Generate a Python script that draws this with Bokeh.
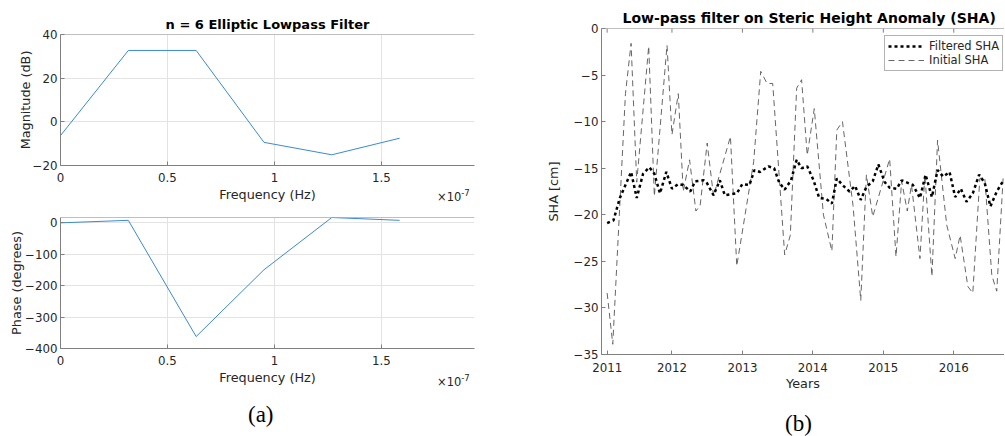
from bokeh.plotting import figure
from bokeh.layouts import row, column
from bokeh.models import Div, Span, Legend, LegendItem, FixedTicker, Range1d
from bokeh.embed import file_html
from bokeh.resources import INLINE

# ---------------- data ----------------
freq_hz = [0.0, 3.17e-8, 6.34e-8, 9.51e-8, 1.268e-7, 1.585e-7]
mag_db = [-6.3, 32.7, 32.7, -9.4, -15.1, -7.5]
phase_deg = [-1.0, 7.0, -362.0, -150.0, 16.0, 7.0]

init_years = [2011.08, 2011.16, 2011.34, 2011.42, 2011.50, 2011.67, 2011.75, 2011.93, 2012.00,
              2012.09, 2012.16, 2012.25, 2012.34, 2012.40, 2012.50, 2012.59, 2012.83, 2012.92,
              2013.16, 2013.26, 2013.35, 2013.43, 2013.60, 2013.68, 2013.77, 2013.84, 2013.92,
              2014.02, 2014.15, 2014.27, 2014.34, 2014.42, 2014.57, 2014.68, 2014.76, 2014.85,
              2015.09, 2015.18, 2015.26, 2015.34, 2015.40, 2015.52, 2015.59, 2015.69, 2015.77,
              2015.90, 2016.02, 2016.09, 2016.20, 2016.27, 2016.37, 2016.44, 2016.54, 2016.61,
              2016.70]
init_sha = [-28.4, -33.9, -7.0, -1.6, -16.5, -1.9, -18.0, -1.8, -11.4,
            -7.0, -17.5, -14.1, -19.6, -19.0, -12.3, -18.0, -11.6, -25.5,
            -14.3, -4.6, -5.9, -5.9, -24.3, -22.2, -6.4, -5.5, -13.6,
            -8.6, -20.0, -23.9, -10.9, -10.0, -19.0, -29.2, -15.7, -20.2,
            -14.0, -24.5, -16.4, -19.6, -16.8, -24.7, -15.7, -26.6, -12.0,
            -21.1, -24.7, -22.2, -27.7, -28.4, -16.1, -16.0, -26.5, -28.2,
            -16.1]

filt_years = [2011.08, 2011.17, 2011.26, 2011.34, 2011.42, 2011.50, 2011.59, 2011.68, 2011.75,
              2011.83, 2011.92, 2012.00, 2012.09, 2012.16, 2012.26, 2012.33, 2012.45, 2012.49,
              2012.59, 2012.68, 2012.75, 2012.92, 2013.00, 2013.10, 2013.17, 2013.25, 2013.37,
              2013.45, 2013.52, 2013.60, 2013.69, 2013.77, 2013.84, 2013.92, 2014.01, 2014.09,
              2014.19, 2014.27, 2014.34, 2014.42, 2014.52, 2014.60, 2014.68, 2014.76, 2014.85,
              2014.93, 2015.02, 2015.09, 2015.19, 2015.26, 2015.42, 2015.52, 2015.60, 2015.69,
              2015.77, 2015.85, 2015.94, 2016.02, 2016.10, 2016.18, 2016.27, 2016.36, 2016.44,
              2016.52, 2016.61, 2016.69]
filt_sha = [-20.9, -20.6, -18.2, -16.8, -15.4, -18.2, -15.6, -14.9, -15.6,
            -17.7, -15.4, -17.2, -16.7, -16.8, -17.5, -16.4, -16.3, -16.5,
            -17.9, -16.3, -17.9, -17.7, -16.7, -16.8, -15.2, -15.4, -14.8,
            -15.0, -16.5, -17.3, -16.3, -14.1, -15.0, -14.8, -16.3, -18.2,
            -18.3, -18.8, -16.1, -16.8, -17.5, -16.9, -18.4, -17.0, -16.4,
            -14.6, -16.5, -17.1, -17.2, -16.3, -16.8, -18.2, -15.7, -18.1,
            -15.2, -15.9, -15.4, -18.1, -17.2, -18.6, -17.7, -15.7, -16.6,
            -19.1, -17.5, -16.5]

freq_ticks = [0, 0.5, 1, 1.5]
freq_tick_labels = ["0", "0.5", "1", "1.5"]
mag_ticks = [-20, 0, 20, 40]
phase_ticks = [-400, -300, -200, -100, 0]
year_ticks = [2011.08, 2012, 2013, 2014, 2015, 2016]
year_tick_labels = ["2011", "2012", "2013", "2014", "2015", "2016"]
sha_ticks = [-35, -30, -25, -20, -15, -10, -5, 0]

FONT = "DejaVu Sans"
AXC = "#808080"
TXT = "#262626"
BLUE = "#3a8ad0"
SCALE = 1e-7
freq_x = [f / SCALE for f in freq_hz]


def style(p, grid=False):
    p.outline_line_color = None
    p.background_fill_color = "white"
    p.border_fill_color = "white"
    for ax in p.axis:
        ax.axis_line_color = AXC
        ax.axis_line_width = 1
        ax.major_tick_line_color = AXC
        ax.major_tick_in = 4
        ax.major_tick_out = 0
        ax.minor_tick_line_color = None
        ax.major_label_text_font = FONT
        ax.major_label_text_font_size = "11.8px"
        ax.major_label_text_color = TXT
        ax.axis_label_text_font = FONT
        ax.axis_label_text_font_style = "normal"
        ax.axis_label_text_font_size = "12.8px"
        ax.axis_label_text_color = TXT
        ax.major_label_standoff = 3
        ax.axis_label_standoff = 2
    p.xaxis.major_label_standoff = 7
    if grid:
        p.grid.grid_line_color = "#e3e3e3"
        p.grid.grid_line_width = 1
    else:
        p.grid.grid_line_color = None
    p.title.text_font = FONT
    p.title.text_font_size = "13px"
    p.title.text_font_style = "bold"
    p.title.text_color = "black"
    p.title.align = "center"
    p.title.standoff = 5
    p.add_layout(Span(location=p.y_range.end, dimension="width", line_color=AXC, line_width=1))


# ---------------- magnitude ----------------
p1 = figure(width=540, height=207, x_range=Range1d(0, 1.935), y_range=Range1d(-20, 40),
            output_backend="svg", toolbar_location=None, title="n = 6 Elliptic Lowpass Filter",
            min_border_left=60, min_border_right=66, min_border_top=34, min_border_bottom=42)
p1.line(freq_x, mag_db, line_color=BLUE, line_width=1)
p1.xaxis.ticker = FixedTicker(ticks=freq_ticks)
p1.xaxis.major_label_overrides = dict(zip(freq_ticks, freq_tick_labels))
p1.yaxis.ticker = FixedTicker(ticks=mag_ticks)
p1.xaxis.axis_label = "Frequency (Hz)"
p1.yaxis.axis_label = "Magnitude (dB)"
style(p1, grid=True)
p1.yaxis.axis_label_standoff = -3

# ---------------- phase ----------------
p2 = figure(width=540, height=183, x_range=Range1d(0, 1.935), y_range=Range1d(-400, 16),
            output_backend="svg", toolbar_location=None,
            min_border_left=60, min_border_right=66, min_border_top=10, min_border_bottom=42)
p2.line(freq_x, phase_deg, line_color=BLUE, line_width=1)
p2.xaxis.ticker = FixedTicker(ticks=freq_ticks)
p2.xaxis.major_label_overrides = dict(zip(freq_ticks, freq_tick_labels))
p2.yaxis.ticker = FixedTicker(ticks=phase_ticks)
p2.xaxis.axis_label = "Frequency (Hz)"
p2.yaxis.axis_label = "Phase (degrees)"
style(p2, grid=True)
p2.yaxis.axis_label_standoff = -2

cap_style = "font-family:'Liberation Serif',serif;font-size:23px;line-height:24px;color:black;"
exp_style = ("position:absolute;white-space:nowrap;font-family:'DejaVu Sans',sans-serif;"
             "font-size:11.5px;line-height:14px;color:%s;" % TXT)
sup_style = "font-size:8.5px;position:relative;top:-5px;"
div_a = Div(text=(
    '<div style="position:relative;width:540px;height:45px;">'
    '<span style="%sleft:437px;top:-200px;">\u00d710<span style="%s">-7</span></span>'
    '<span style="%sleft:437px;top:-15px;">\u00d710<span style="%s">-7</span></span>'
    '<div style="%sposition:absolute;left:248px;top:13px;">(a)</div>'
    '</div>') % (exp_style, sup_style, exp_style, sup_style, cap_style),
    width=540, height=45, margin=0)

# ---------------- SHA ----------------
p3 = figure(width=464, height=394, x_range=Range1d(2011.0, 2016.72), y_range=Range1d(-35, 0),
            output_backend="svg", toolbar_location=None,
            title="Low-pass filter on Steric Height Anomaly (SHA)",
            min_border_left=61, min_border_right=0, min_border_top=28, min_border_bottom=40)
r_init = p3.line(init_years, init_sha, line_color="#555555", line_width=0.9, line_dash="6 4")
r_filt = p3.line(filt_years, filt_sha, line_color="black", line_width=2.5, line_dash="3 3")
# short inward tick marks on the top edge (box ticks)
p3.segment(x0=year_ticks, y0=[0] * len(year_ticks), x1=year_ticks, y1=[-0.45] * len(year_ticks),
           line_color=AXC, line_width=1)
p3.xaxis.ticker = FixedTicker(ticks=year_ticks)
p3.xaxis.major_label_overrides = dict(zip(year_ticks, year_tick_labels))
p3.yaxis.ticker = FixedTicker(ticks=sha_ticks)
p3.xaxis.axis_label = "Years"
p3.yaxis.axis_label = "SHA [cm]"
style(p3, grid=False)
p3.xaxis.major_label_standoff = 8
p3.xaxis.axis_label_standoff = 1
p3.yaxis.axis_label_standoff = 10
p3.title.text_font_size = "14px"
p3.title.align = "left"
p3.title.offset = 21
legend = Legend(items=[LegendItem(label="Filtered SHA", renderers=[r_filt]),
                       LegendItem(label="Initial SHA", renderers=[r_init])],
                location=(283, 283), padding=3, spacing=0,
                glyph_width=36, glyph_height=14, label_standoff=5, label_height=14,
                label_text_font=FONT, label_text_font_size="11.5px", label_text_color=TXT,
                border_line_color="#666666", border_line_width=1,
                background_fill_color="white", background_fill_alpha=1)
p3.add_layout(legend)

div_b = Div(text='<div style="%spadding-left:245px;padding-top:18px;">(b)</div>' % cap_style,
            width=464, height=41, margin=0)

layout = row(column(p1, p2, div_a), column(p3, div_b))

open("out.html", "w").write(file_html(layout, INLINE))
